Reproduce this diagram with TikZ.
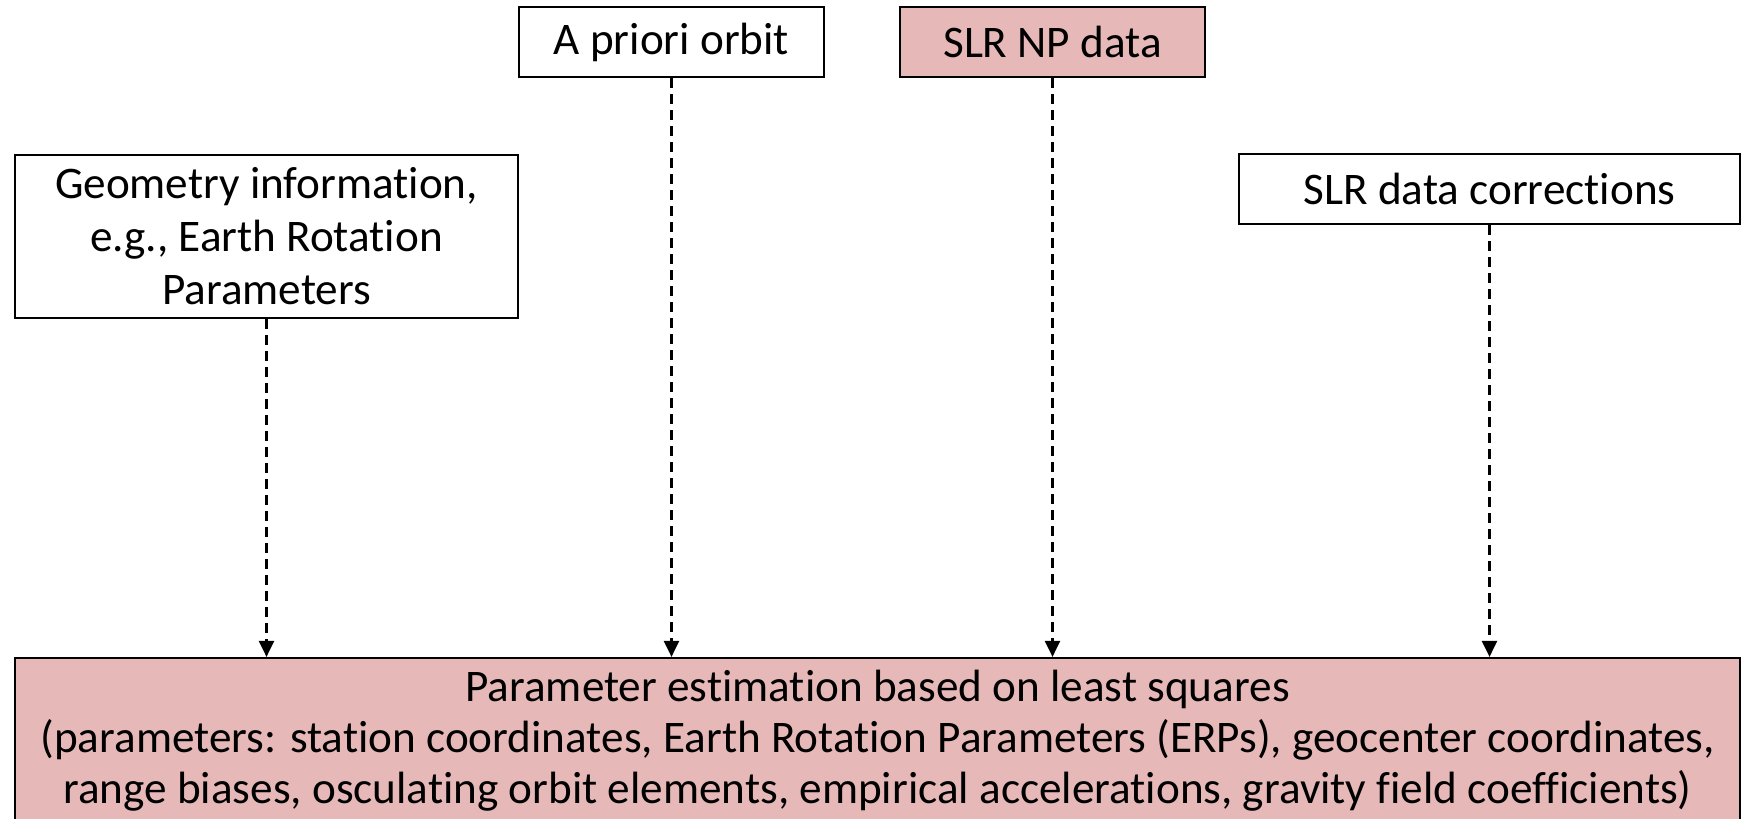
\documentclass[tikz,border=0pt]{standalone}
\usepackage{fontspec}
\setmainfont[Ligatures={NoCommon}]{Carlito}
\usetikzlibrary{arrows.meta}
\definecolor{pinkfill}{HTML}{E6B8B7}
\tikzset{
  box/.style={draw=black, line width=1.1pt, inner sep=0pt, align=center, font=\fontsize{22.6}{25.5}\selectfont},
  flow/.style={draw=black, line width=1.2pt, dash pattern=on 5pt off 3pt, -{Triangle[width=7.5pt,length=8pt]}}
}
\begin{document}
\begin{tikzpicture}[x=0.5pt,y=-0.5pt]
\useasboundingbox (0,0) rectangle (1742,819);
\clip (0,0) rectangle (1742,819);
\node[box, minimum width=152.5pt, minimum height=35pt] (orbit) at (671.5,42) {A priori orbit};
\node[box, fill=pinkfill, minimum width=152.5pt, minimum height=35pt] (np) at (1052.5,42) {SLR NP data};
\node[box, minimum width=251.5pt, minimum height=81.5pt, font=\fontsize{22.6}{26.5}\selectfont] (geo) at (266.5,236.5) {Geometry information,\\e.g., Earth Rotation\\Parameters};
\node[box, minimum width=250.5pt, minimum height=35pt] (corr) at (1489.5,189) {SLR data corrections};
\node[box, fill=pinkfill, minimum width=862.5pt, minimum height=83pt] (lsq) at (877.5,741) {Parameter estimation based on least squares\\(parameters: station coordinates, Earth Rotation Parameters (ERPs), geocenter coordinates,\\range biases, osculating orbit elements, empirical accelerations, gravity field coefficients)};
\draw[flow] (geo.south) -- (geo.south |- lsq.north);
\draw[flow] (orbit.south) -- (orbit.south |- lsq.north);
\draw[flow] (np.south) -- (np.south |- lsq.north);
\draw[flow] (corr.south) -- (corr.south |- lsq.north);
\end{tikzpicture}
\end{document}
